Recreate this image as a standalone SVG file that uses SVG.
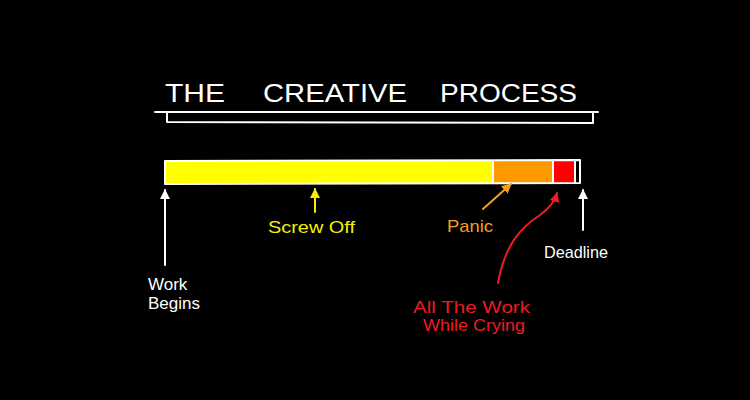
<svg xmlns="http://www.w3.org/2000/svg" width="750" height="400" viewBox="0 0 750 400">
<defs>
<style>
.t{font-family:"Liberation Sans",Arial,sans-serif;}
.title{font-size:26px;fill:#fff;}
.lbl{font-size:17px;}
.w{fill:#fff}
.y{fill:#f5ee00}
.o{fill:#f2a01c}
.r{fill:#ec1c24}
.ln{fill:none;stroke-width:2;stroke-linecap:round;stroke-linejoin:round}
</style>
<marker id="aw" viewBox="0 0 10 10" refX="9" refY="5" markerWidth="5" markerHeight="5" orient="auto"><path d="M0,0 L10,5 L0,10 Z" fill="#fff"/></marker>
<marker id="ay" viewBox="0 0 10 10" refX="9" refY="5" markerWidth="5" markerHeight="5" orient="auto"><path d="M0,0 L10,5 L0,10 Z" fill="#f5ee00"/></marker>
<marker id="ao" viewBox="0 0 10 10" refX="9" refY="5" markerWidth="5" markerHeight="5" orient="auto"><path d="M0,0 L10,5 L0,10 Z" fill="#f2a01c"/></marker>
<marker id="ar" viewBox="0 0 10 10" refX="9" refY="5" markerWidth="5" markerHeight="5" orient="auto"><path d="M0,0 L10,5 L0,10 Z" fill="#ec1c24"/></marker>
</defs>
<rect width="750" height="400" fill="#000"/>
<g id="title">
<text class="t title" y="102"><tspan x="165" textLength="60" lengthAdjust="spacingAndGlyphs">THE</tspan><tspan x="263" textLength="144" lengthAdjust="spacingAndGlyphs">CREATIVE</tspan><tspan x="440" textLength="137" lengthAdjust="spacingAndGlyphs">PROCESS</tspan></text>
<path class="ln" stroke="#fff" d="M155,112 L598,112 M167,112 L167,122 L593,123 L593,112"/>
</g>
<g id="bar">
<rect x="165" y="161" width="328" height="22" fill="#ffff00"/>
<rect x="493" y="161" width="60" height="22" fill="#ff9900"/>
<rect x="553" y="161" width="22" height="22" fill="#ff0000"/>
<path class="ln" stroke="#fff" d="M165,161 L580,160 L580,183 L165,184 Z M493,161 L493,183 M553,161 L553,183 M575,161 L575,183"/>
</g>
<g id="connectors">
<path class="ln" stroke="#fff" stroke-width="2.5" d="M165,265 L165,190" marker-end="url(#aw)"/>
<path class="ln" stroke="#f5ee00" stroke-width="2.5" d="M315,212 L315,189" marker-end="url(#ay)"/>
<path class="ln" stroke="#f2a01c" stroke-width="2.5" d="M483,209 L511,184" marker-end="url(#ao)"/>
<path class="ln" stroke="#ec1c24" stroke-width="2.5" d="M498,283 C505,245 520,228 540,215 C550,208 555,200 557,193" marker-end="url(#ar)"/>
<path class="ln" stroke="#fff" stroke-width="2.5" d="M583,230 L583,190" marker-end="url(#aw)"/>
</g>
<g id="work-begins"><text class="t lbl w" x="148" y="290">Work</text><text class="t lbl w" x="148" y="309">Begins</text></g>
<g id="screw-off"><text class="t lbl y" x="268" y="233" textLength="87" lengthAdjust="spacingAndGlyphs">Screw Off</text></g>
<g id="panic"><text class="t lbl o" x="447" y="232" textLength="46" lengthAdjust="spacingAndGlyphs">Panic</text></g>
<g id="deadline"><text class="t lbl w" x="544" y="258" textLength="64" lengthAdjust="spacingAndGlyphs">Deadline</text></g>
<g id="all-the-work"><text class="t lbl r" x="413" y="313" textLength="117" lengthAdjust="spacingAndGlyphs">All The Work</text><text class="t lbl r" x="423" y="331" textLength="102" lengthAdjust="spacingAndGlyphs">While Crying</text></g>
</svg>
